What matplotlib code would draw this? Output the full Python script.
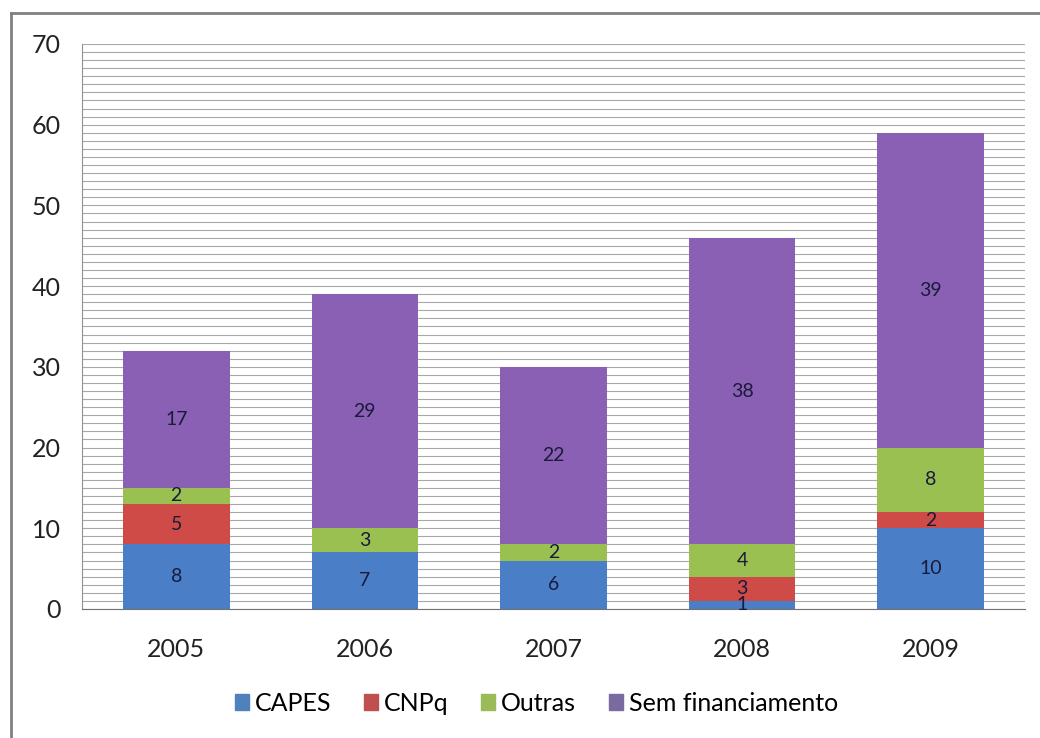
import numpy as np
import matplotlib.pyplot as plt
from matplotlib.lines import Line2D

plt.rcParams['font.family'] = ['Lato', 'DejaVu Sans']

years = ['2005', '2006', '2007', '2008', '2009']
capes = [8, 7, 6, 1, 10]
cnpq = [5, 0, 0, 3, 2]
outras = [2, 3, 2, 4, 8]
sem_fin = [17, 29, 22, 38, 39]

series = [
    ('CAPES', capes, '#4A7FC8'),
    ('CNPq', cnpq, '#CF4B47'),
    ('Outras', outras, '#9BC052'),
    ('Sem financiamento', sem_fin, '#8A60B4'),
]
legend_colors = ['#4F81BD', '#C0504D', '#9BBB59', '#7A6AA0']

fig = plt.figure(figsize=(10.4, 7.38), dpi=100)
ax = fig.add_axes([0.0788, 0.1748, 0.9068, 0.7656])

x = np.arange(len(years))
bottom = np.zeros(len(years))
handles = []
for (name, vals, color), lc in zip(series, legend_colors):
    vals = np.array(vals)
    ax.bar(x, vals, width=0.565, bottom=bottom, color=color, zorder=3)
    for xi, b, v in zip(x, bottom, vals):
        if v > 0:
            ax.text(xi, b + v / 2, str(v), ha='center', va='center',
                    fontsize=14, color='#1a1a3a', zorder=4)
    handles.append(plt.Rectangle((0, 0), 1, 1, color=lc))
    bottom += vals

ax.set_xlim(-0.5, 4.5)
ax.set_ylim(0, 70)
ax.set_yticks(range(0, 71, 10))
ax.set_yticks(range(0, 71, 1), minor=True)
ax.yaxis.grid(True, which='both', color='#a8a8a8', linewidth=0.8, zorder=0)
ax.set_xticks(x)
ax.set_xticklabels(years)
ax.tick_params(axis='y', which='both', length=0, labelsize=18, pad=15, colors='#222222')
ax.tick_params(axis='x', length=0, labelsize=18, pad=21, colors='#222222')
for side in ['top', 'right']:
    ax.spines[side].set_visible(False)
ax.spines['left'].set_color('#909090')
ax.spines['bottom'].set_color('#707070')

fig.legend(handles, [s[0] for s in series], loc='center', bbox_to_anchor=(0.516, 0.047),
           ncol=4, frameon=False, fontsize=18, handlelength=0.55, handleheight=0.55,
           handletextpad=0.25, columnspacing=1.3)

# outer chart frame
fig.add_artist(Line2D([11 / 1040, 11 / 1040], [0, 1 - 13 / 738], color='#808080', linewidth=2))
fig.add_artist(Line2D([11 / 1040, 1], [1 - 13 / 738, 1 - 13 / 738], color='#808080', linewidth=2))

fig.savefig('out.png', dpi=100)
